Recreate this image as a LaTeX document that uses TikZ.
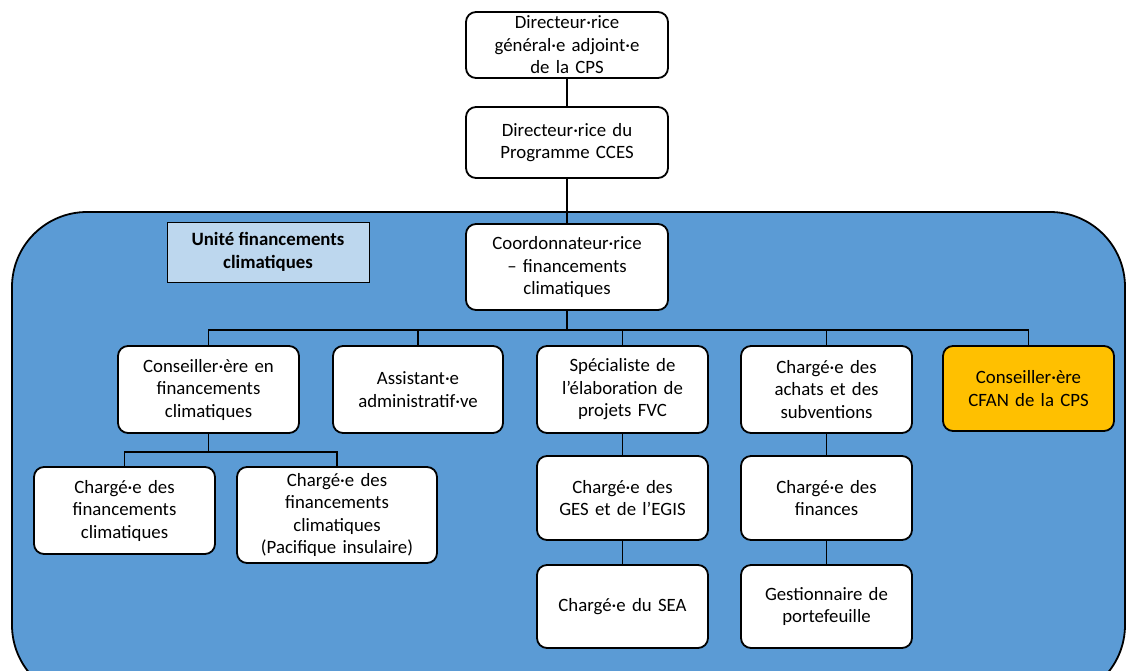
\documentclass[tikz,border=0pt]{standalone}
\usepackage{fontspec}
\setmainfont{Carlito}
\definecolor{unitblue}{HTML}{5B9BD5}
\definecolor{labelblue}{HTML}{BDD7EE}
\definecolor{cfan}{HTML}{FFC000}
\begin{document}
\begin{tikzpicture}[x=1pt,y=-1pt,
  box/.style={draw=black,line width=1.8pt,fill=white,rounded corners=10pt,
    align=center,inner sep=2pt,font=\fontsize{18.8}{22.5}\selectfont},
  conn/.style={line width=1.8pt,black}]
\useasboundingbox (0,0) rectangle (1126,670);
\begin{scope}
\clip (0,0) rectangle (1126,670);
\draw[line width=1.8pt,fill=unitblue,rounded corners=75pt] (12,212) rectangle (1125,700);
\end{scope}
% nodes
\node[box,minimum width=202pt,minimum height=66pt,text width=196pt] (dga) at (567,45) {Directeur·rice\\général·e adjoint·e\\de la CPS};
\node[box,minimum width=202pt,minimum height=71pt,text width=196pt] (dir) at (567,142.5) {Directeur·rice du\\Programme CCES};
\node[box,minimum width=202pt,minimum height=86pt,text width=196pt] (coord) at (567,267) {Coordonnateur·rice\\– financements\\climatiques};
\node[draw=black,line width=0.8pt,fill=labelblue,minimum width=202pt,minimum height=60pt,align=center,font=\fontsize{18.8}{22.5}\selectfont\bfseries] (lab) at (268,252) {Unité financements\\climatiques};
\node[box,minimum width=181pt,minimum height=87pt,text width=176pt] (cons) at (208.5,389.5) {Conseiller·ère en\\financements\\climatiques};
\node[box,minimum width=170pt,minimum height=87pt,text width=166pt] (asst) at (418,389.5) {Assistant·e\\administratif·ve};
\node[box,minimum width=171pt,minimum height=87pt,text width=166pt] (spec) at (622.5,389.5) {Spécialiste de\\l’élaboration de\\projets FVC};
\node[box,minimum width=171pt,minimum height=87pt,text width=166pt] (achat) at (826.5,389.5) {Chargé·e des\\achats et des\\subventions};
\node[box,fill=cfan,minimum width=171pt,minimum height=85pt,text width=166pt] (cfan) at (1028.5,388.5) {Conseiller·ère\\CFAN de la CPS};
\node[box,minimum width=181pt,minimum height=87pt,text width=176pt] (cfin) at (124.5,510.5) {Chargé·e des\\financements\\climatiques};
\node[box,minimum width=200pt,minimum height=96pt,text width=196pt] (cpac) at (337,515) {Chargé·e des\\financements\\climatiques\\(Pacifique insulaire)};
\node[box,minimum width=171pt,minimum height=84pt,text width=166pt] (ges) at (622.5,498) {Chargé·e des\\GES et de l’EGIS};
\node[box,minimum width=171pt,minimum height=83pt,text width=166pt] (sea) at (622.5,606.5) {Chargé·e du SEA};
\node[box,minimum width=171pt,minimum height=84pt,text width=166pt] (fin) at (826.5,498) {Chargé·e des\\finances};
\node[box,minimum width=171pt,minimum height=83pt,text width=166pt] (gest) at (826.5,606.5) {Gestionnaire de\\portefeuille};
% connectors
\draw[conn] (dga) -- (dir);
\draw[conn] (dir) -- (coord);
\coordinate (bus) at (567,330);
\draw[conn] (coord.south) -- (bus);
\draw[conn] (cons.north) |- (bus) -| (cfan.north);
\draw[conn] (asst.north) -- (asst.north |- bus);
\draw[conn] (spec.north) -- (spec.north |- bus);
\draw[conn] (achat.north) -- (achat.north |- bus);
\coordinate (bus2) at (208.5,452);
\draw[conn] (cons.south) -- (bus2);
\draw[conn] (cfin.north) |- (bus2) -| (cpac.north);
\draw[conn] (spec) -- (ges);
\draw[conn] (ges) -- (sea);
\draw[conn] (achat) -- (fin);
\draw[conn] (fin) -- (gest);
\end{tikzpicture}
\end{document}
